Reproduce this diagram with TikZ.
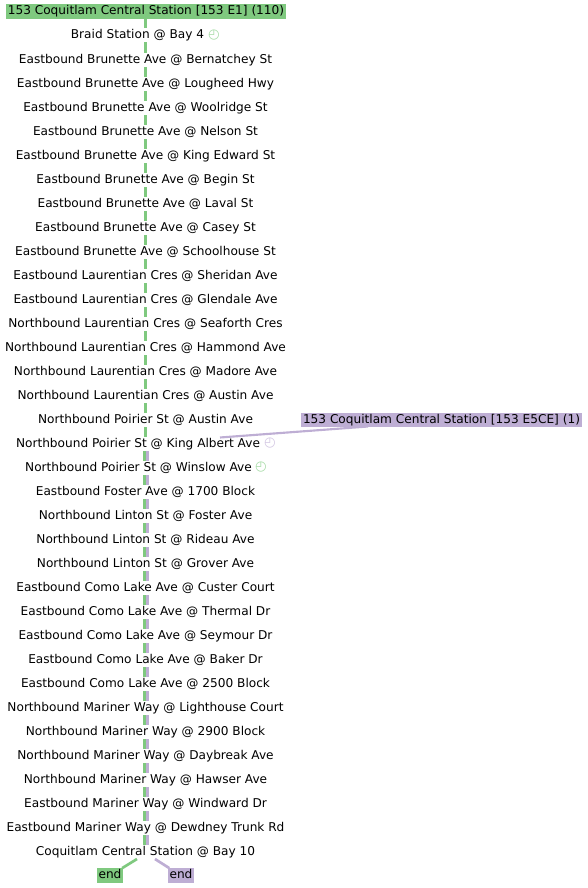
\documentclass[tikz,border=0pt]{standalone}
\usepackage{fontspec}
\setmainfont{DejaVu Sans}
\definecolor{rg}{HTML}{7FC97F}
\definecolor{rp}{HTML}{BEAED4}
\definecolor{rgl}{HTML}{A6DBA6}
\definecolor{rpl}{HTML}{D2C6E2}
\tikzset{
  px/.style={x=0.75pt,y=-0.75pt},
  stop/.style={fill=white,inner xsep=2pt,inner ysep=0pt,text height=7pt,text depth=2pt,minimum height=10.5pt,text=black,font=\fontsize{9.1}{11}\selectfont},
  head/.style={inner xsep=1.2pt,inner ysep=0pt,text height=7pt,text depth=2pt,minimum height=10.8pt,text=black,font=\fontsize{9.1}{11}\selectfont},
  gline/.style={draw=rg,line width=2pt},
  pline/.style={draw=rp,line width=2pt},
  clk/.style={inner sep=0pt,font=\fontsize{10}{11}\selectfont}
}
\begin{document}
\begin{tikzpicture}[px]
\useasboundingbox (0,0) rectangle (587,888);
\coordinate (g0) at (145.8,11);
\coordinate (gm) at (145.8,444);
\coordinate (gs) at (144.7,444);
\coordinate (pstart) at (147.3,444);
\coordinate (gend) at (144.7,852);
\coordinate (pend) at (147.3,852);
\draw[gline,line width=2.5pt] (g0) -- (gm);
\draw[gline] (gs) -- (gend);
\draw[pline] (pstart) -- (pend);
\foreach \name/\xx/\yy/\txt in {
s1/137.5/35/{Braid Station @ Bay 4},
s2/145.5/60/{Eastbound Brunette Ave @ Bernatchey St},
s3/145.5/84/{Eastbound Brunette Ave @ Lougheed Hwy},
s4/145.5/108/{Eastbound Brunette Ave @ Woolridge St},
s5/145.5/132/{Eastbound Brunette Ave @ Nelson St},
s6/145.5/156/{Eastbound Brunette Ave @ King Edward St},
s7/145.5/180/{Eastbound Brunette Ave @ Begin St},
s8/145.5/204/{Eastbound Brunette Ave @ Laval St},
s9/145.5/228/{Eastbound Brunette Ave @ Casey St},
s10/145.5/252/{Eastbound Brunette Ave @ Schoolhouse St},
s11/145.5/276/{Eastbound Laurentian Cres @ Sheridan Ave},
s12/145.5/300/{Eastbound Laurentian Cres @ Glendale Ave},
s13/145.5/324/{Northbound Laurentian Cres @ Seaforth Cres},
s14/145.5/348/{Northbound Laurentian Cres @ Hammond Ave},
s15/145.5/372/{Northbound Laurentian Cres @ Madore Ave},
s16/145.5/396/{Northbound Laurentian Cres @ Austin Ave},
s17/145.5/420/{Northbound Poirier St @ Austin Ave},
s18/138/444/{Northbound Poirier St @ King Albert Ave},
s19/138.5/468/{Northbound Poirier St @ Winslow Ave},
s20/145.5/492/{Eastbound Foster Ave @ 1700 Block},
s21/145.5/516/{Northbound Linton St @ Foster Ave},
s22/145.5/540/{Northbound Linton St @ Rideau Ave},
s23/145.5/564/{Northbound Linton St @ Grover Ave},
s24/145.5/588/{Eastbound Como Lake Ave @ Custer Court},
s25/145.5/612/{Eastbound Como Lake Ave @ Thermal Dr},
s26/145.5/636/{Eastbound Como Lake Ave @ Seymour Dr},
s27/145.5/660/{Eastbound Como Lake Ave @ Baker Dr},
s28/145.5/684/{Eastbound Como Lake Ave @ 2500 Block},
s29/145.5/708/{Northbound Mariner Way @ Lighthouse Court},
s30/145.5/732/{Northbound Mariner Way @ 2900 Block},
s31/145.5/756/{Northbound Mariner Way @ Daybreak Ave},
s32/145.5/780/{Northbound Mariner Way @ Hawser Ave},
s33/145.5/804/{Eastbound Mariner Way @ Windward Dr},
s34/145.5/828/{Eastbound Mariner Way @ Dewdney Trunk Rd},
s35/145.5/852/{Coquitlam Central Station @ Bay 10}}
{\node[stop] (\name) at (\xx,\yy) {\txt};}
\node[head,fill=rg] (hg) at (146,11.6) {153 Coquitlam Central Station [153 E1] (110)};
\node[head,fill=rp] (hp) at (441.5,420) {153 Coquitlam Central Station [153 E5CE] (1)};
\node[head,fill=rg] (eg) at (110,875.6) {end};
\node[head,fill=rp] (ep) at (181,875.6) {end};
\coordinate (pj) at (220,437.5);
\coordinate (pk) at (368,426.5);
\draw[draw=rp,line width=1.6pt] (pk) -- (pj);
\coordinate (gb) at (137,859);
\coordinate (pb) at (155,859);
\draw[draw=rg,line width=2pt] (gb) -- (eg);
\draw[draw=rp,line width=2pt] (pb) -- (ep);
\node[clk,text=rgl] (c1) at (214,35) {◴};
\node[clk,text=rpl] (c2) at (270,443.5) {◴};
\node[clk,text=rgl] (c3) at (261,467) {◴};
\end{tikzpicture}
\end{document}
